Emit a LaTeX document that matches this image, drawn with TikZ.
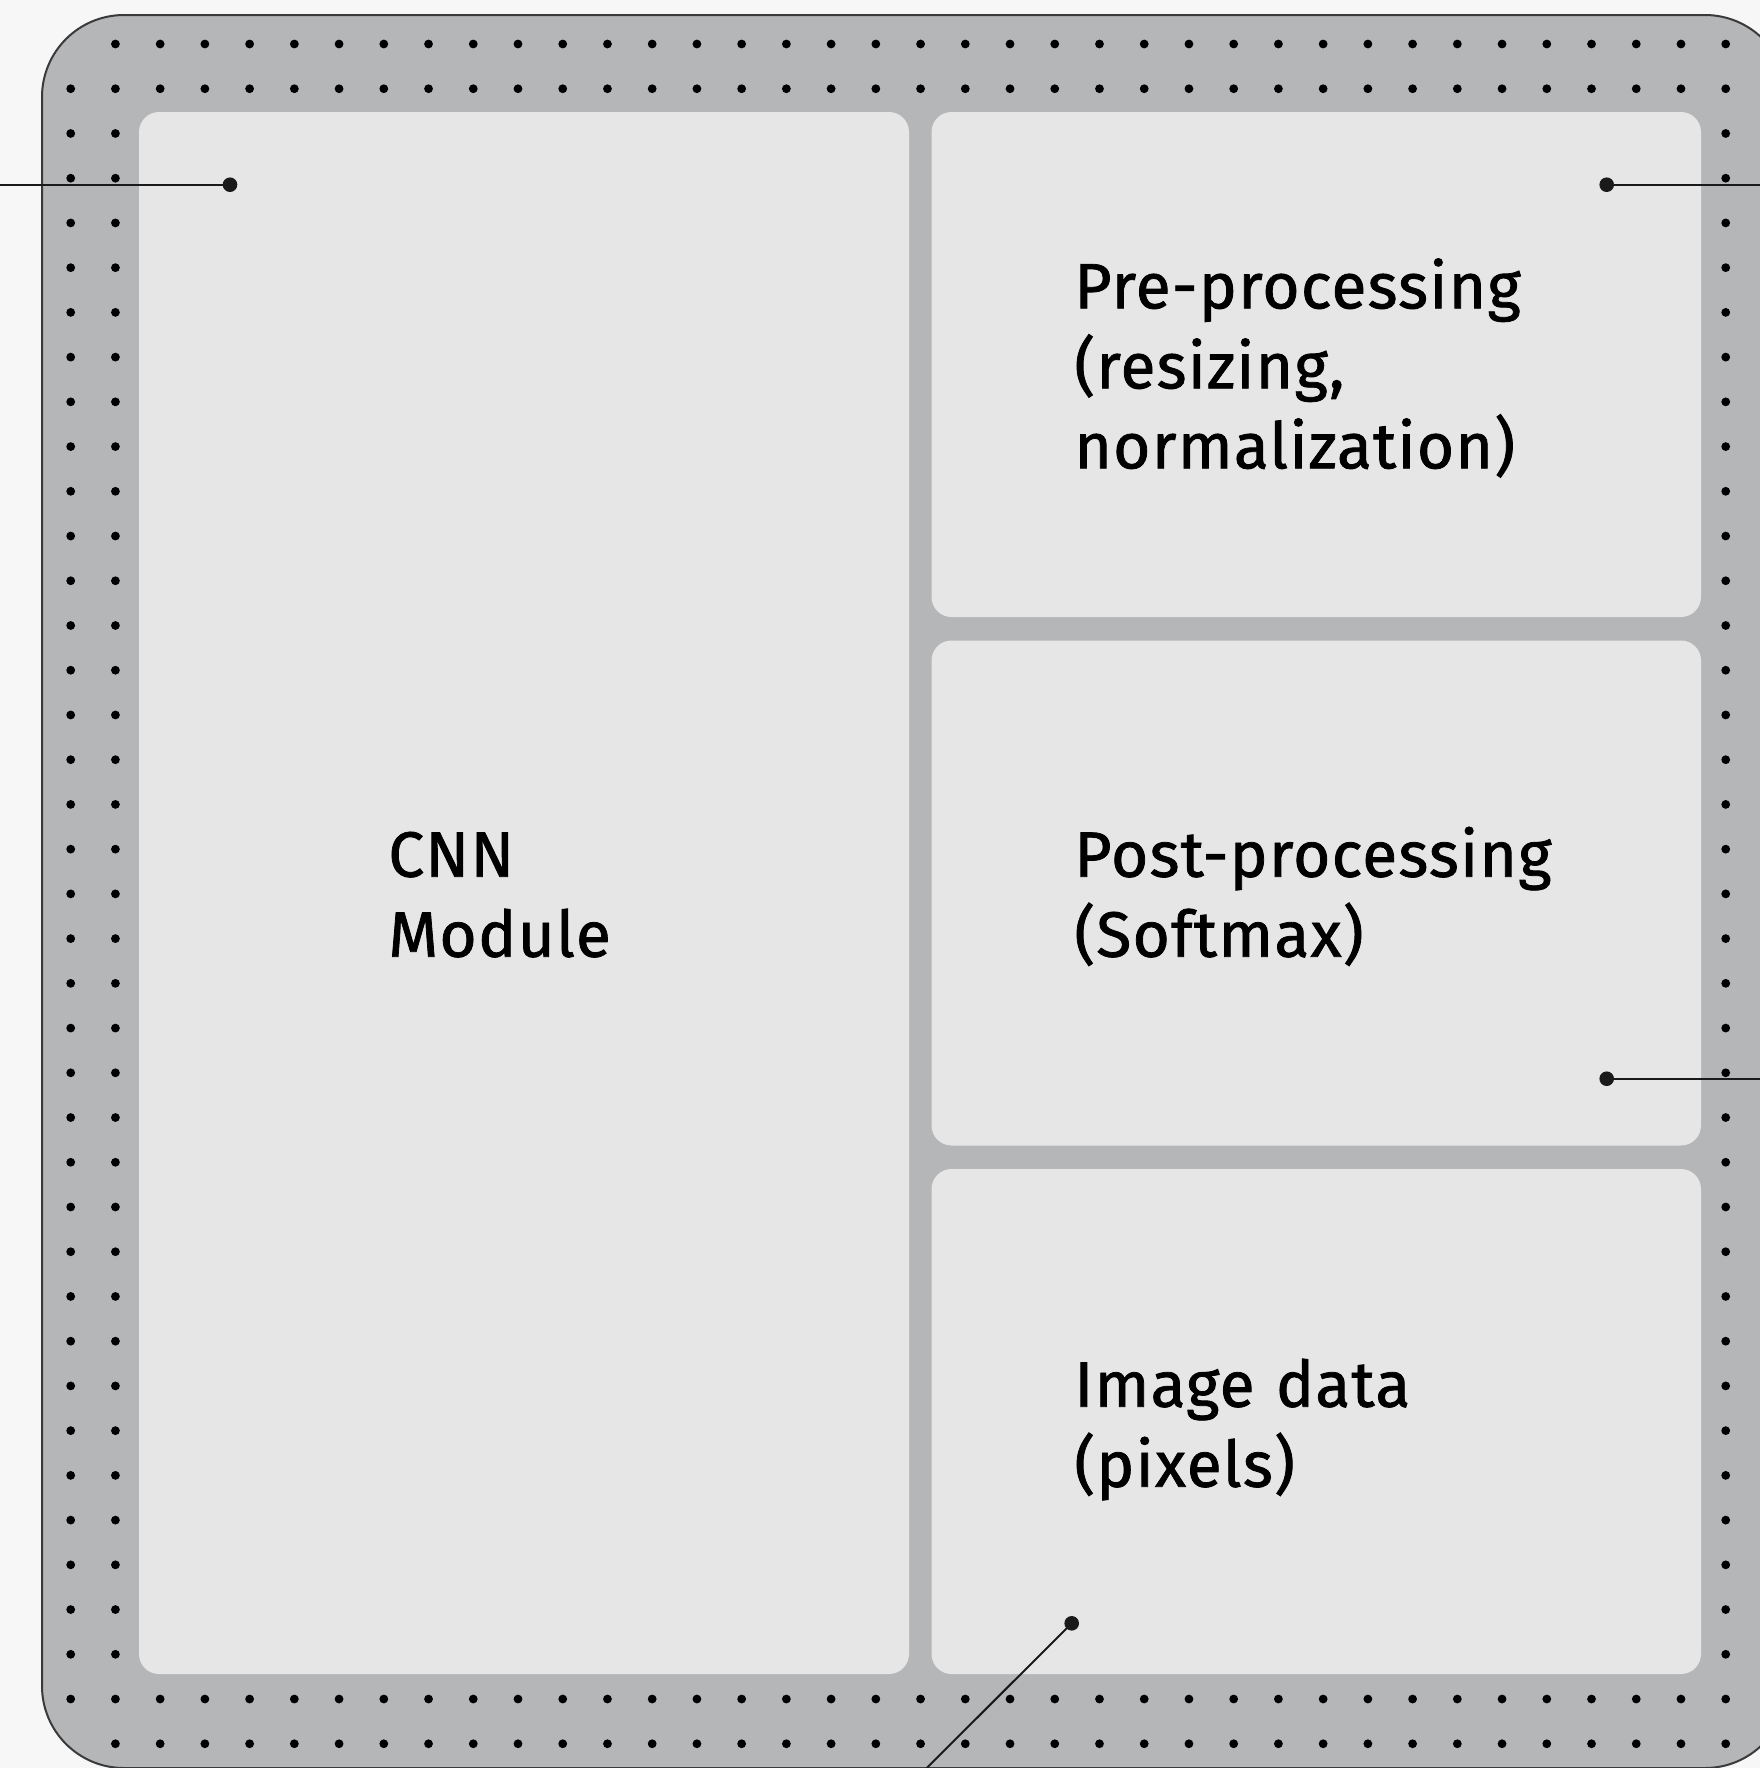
\documentclass[tikz,border=0pt]{standalone}
\usepackage{fontspec}
\setmainfont{Fira Sans}
\newfontfamily\lblfont[FakeBold=1.2, LetterSpace=2]{Fira Sans}
\definecolor{bgc}{HTML}{F7F7F7}
\definecolor{bandc}{HTML}{B5B6B8}
\definecolor{panelc}{HTML}{E6E6E6}
\definecolor{borderc}{HTML}{3A3A3A}
\definecolor{inkc}{HTML}{1A1A1A}
\tikzset{
  panelbox/.style={fill=panelc, draw=none, rounded corners=10pt, inner sep=0pt},
  lbl/.style={anchor=base west, inner sep=0pt, text width=300pt, align=left,
    font=\lblfont\fontsize{32}{40}\selectfont, text=black},
  pin/.style={circle, fill=inkc, draw=none, inner sep=0pt, minimum size=7.3pt},
  lead/.style={draw=inkc, line width=1pt},
  griddot/.style={fill=black}
}
\begin{document}
\begin{tikzpicture}[x=0.5pt,y=-0.5pt]
\useasboundingbox (0,0) rectangle (1760,1768);
\clip (0,0) rectangle (1760,1768);
\fill[bgc] (0,0) rectangle (1760,1768);
% outer band
\draw[fill=bandc, draw=borderc, line width=1pt, rounded corners=41pt] (42,15) rectangle (1787,1768);
% grid dots in the band
\foreach \i in {1,...,37} {\fill[griddot] (70.7+44.73*\i, 44) circle[radius=2.2pt];}
\foreach \i in {0,...,37} {\fill[griddot] (70.7+44.73*\i, 44+44.73) circle[radius=2.2pt];}
\foreach \i in {0,...,37} {\fill[griddot] (70.7+44.73*\i, 44+44.73*37) circle[radius=2.2pt];}
\foreach \i in {1,...,37} {\fill[griddot] (70.7+44.73*\i, 44+44.73*38) circle[radius=2.2pt];}
\foreach \j in {2,...,36} {
  \fill[griddot] (70.7, 44+44.73*\j) circle[radius=2.2pt];
  \fill[griddot] (70.7+44.73, 44+44.73*\j) circle[radius=2.2pt];
  \fill[griddot] (70.7+44.73*37, 44+44.73*\j) circle[radius=2.2pt];
}
% panels
\node[panelbox, minimum width=385pt, minimum height=781pt] (cnn) at (524,893) {};
\node[panelbox, minimum width=384.75pt, minimum height=252.5pt] (pre) at (1316.25,364.5) {};
\node[panelbox, minimum width=384.75pt, minimum height=252.5pt] (post) at (1316.25,893) {};
\node[panelbox, minimum width=384.75pt, minimum height=252.5pt] (img) at (1316.25,1421.5) {};
% labels
\node[lbl] (tpre) at (1074,308.3) {Pre-processing\\(resizing,\\normalization)};
\node[lbl] (tcnn) at (388,876.7) {CNN\\Module};
\node[lbl] (tpost) at (1074,876.7) {Post-processing\\(Softmax)};
\node[lbl] (timg) at (1074,1406.7) {Image data\\(pixels)};
% connectors
\node[pin] (p1) at (230,184.7) {};
\coordinate (e1) at (0,184.7);
\draw[lead] (p1.center) -- (e1);
\node[pin] (p2) at (1606.7,184.7) {};
\coordinate (e2) at (1760,184.7);
\draw[lead] (p2.center) -- (e2);
\node[pin] (p3) at (1606.7,1078.7) {};
\coordinate (e3) at (1760,1078.7);
\draw[lead] (p3.center) -- (e3);
\node[pin] (p4) at (1071.7,1623.3) {};
\coordinate (e4) at (926.7,1768);
\draw[lead] (p4.center) -- (e4);
\end{tikzpicture}
\end{document}
